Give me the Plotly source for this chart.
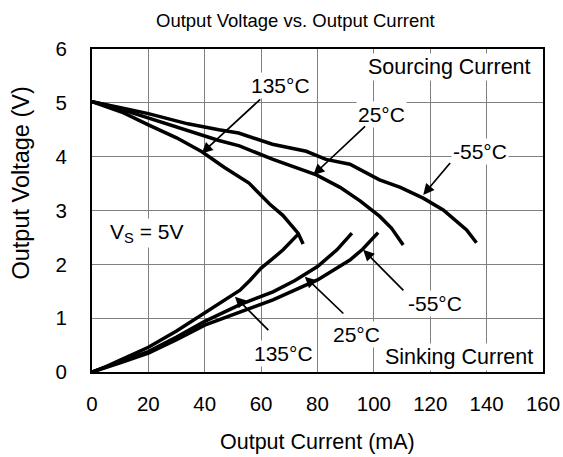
import plotly.graph_objects as go

# ---- data ----
src_m55_x = [0, 5, 11, 20, 34, 45, 52, 64, 76, 83, 91.5, 102, 109.4, 117.5, 124.6, 132.9, 136.4]
src_m55_y = [5.02, 4.97, 4.90, 4.80, 4.61, 4.50, 4.44, 4.23, 4.10, 3.95, 3.86, 3.57, 3.43, 3.23, 3.01, 2.64, 2.40]

src_25_x = [0, 5, 11, 20, 31.9, 45, 52.3, 64.2, 79.6, 88, 95.1, 99.9, 102.1, 106.3, 110.4]
src_25_y = [5.02, 4.96, 4.87, 4.72, 4.51, 4.30, 4.20, 3.95, 3.66, 3.43, 3.18, 2.97, 2.89, 2.67, 2.36]

src_135_x = [0, 5, 10.5, 20, 30, 39, 47, 55.7, 59.4, 63, 67.7, 71.3, 73.1, 74.9]
src_135_y = [5.02, 4.93, 4.83, 4.59, 4.35, 4.09, 3.80, 3.51, 3.31, 3.12, 2.91, 2.70, 2.58, 2.38]

snk_135_x = [0, 5, 10, 20, 30, 40, 47, 52.5, 56, 60, 64, 67.8, 73.5]
snk_135_y = [0, 0.10, 0.22, 0.46, 0.76, 1.09, 1.32, 1.52, 1.70, 1.93, 2.10, 2.27, 2.58]

snk_25_x = [0, 5, 10, 20, 30, 40, 52.5, 64.2, 72, 80, 86.9, 92.2]
snk_25_y = [0, 0.09, 0.19, 0.38, 0.65, 0.94, 1.25, 1.49, 1.70, 1.96, 2.27, 2.58]

snk_m55_x = [0, 5, 10, 20, 30, 40, 52.5, 64.2, 80, 91.5, 96, 101.5]
snk_m55_y = [0, 0.08, 0.17, 0.35, 0.60, 0.87, 1.12, 1.34, 1.71, 2.08, 2.28, 2.59]

x_ticks = [0, 20, 40, 60, 80, 100, 120, 140, 160]
y_ticks = [0, 1, 2, 3, 4, 5, 6]

# temperature labels: text, label position, arrow tail, arrow head
label_text = ["135°C", "25°C", "-55°C", "-55°C", "25°C", "135°C"]
label_x = [66.7, 102.7, 137.6, 121.6, 93.9, 67.8]
label_y = [5.33, 4.78, 4.09, 1.28, 0.69, 0.35]
tail_x = [60.2, 97.4, 127.5, 111.0, 89.7, 63.1]
tail_y = [5.09, 4.59, 3.91, 1.49, 1.06, 0.75]
head_x = [38.9, 78.5, 117.5, 96.2, 75.5, 50.7]
head_y = [4.06, 3.66, 3.29, 2.27, 1.77, 1.40]

FONT = "Arial, Liberation Sans, sans-serif"

fig = go.Figure()
series = [
    (src_m55_x, src_m55_y), (src_25_x, src_25_y), (src_135_x, src_135_y),
    (snk_135_x, snk_135_y), (snk_25_x, snk_25_y), (snk_m55_x, snk_m55_y),
]
for xs, ys in series:
    fig.add_trace(go.Scatter(x=xs, y=ys, mode="lines",
                             line=dict(color="black", width=3.5),
                             showlegend=False, hoverinfo="skip"))

annotations = []
for t, lx, ly in zip(label_text, label_x, label_y):
    annotations.append(dict(x=lx, y=ly, xref="x", yref="y", text=t, showarrow=False,
                            font=dict(family=FONT, size=21, color="black"),
                            bgcolor="white", borderpad=1))
for tx, ty, hx, hy in zip(tail_x, tail_y, head_x, head_y):
    annotations.append(dict(x=hx, y=hy, ax=tx, ay=ty, xref="x", yref="y",
                            axref="x", ayref="y", text="", showarrow=True,
                            arrowhead=2, arrowsize=1.3, arrowwidth=1.7,
                            arrowcolor="black"))
annotations.append(dict(x=156.4, y=5.67, xref="x", yref="y", text="Sourcing Current",
                        showarrow=False, xanchor="right",
                        font=dict(family=FONT, size=21.5, color="black"),
                        bgcolor="white", borderpad=1))
annotations.append(dict(x=157.1, y=0.28, xref="x", yref="y", text="Sinking Current",
                        showarrow=False, xanchor="right",
                        font=dict(family=FONT, size=21.5, color="black"),
                        bgcolor="white", borderpad=1))
annotations.append(dict(x=5.8, y=2.58, xref="x", yref="y", text="V<sub>S</sub> = 5V",
                        showarrow=False, xanchor="left",
                        font=dict(family=FONT, size=21, color="black"),
                        bgcolor="white", borderpad=1))
# chart title and axis titles
annotations.append(dict(x=0.452, y=1.087, xref="paper", yref="paper",
                        text="Output Voltage vs. Output Current", showarrow=False,
                        xanchor="center", yanchor="middle",
                        font=dict(family=FONT, size=18.5, color="black")))
annotations.append(dict(x=0.5, y=-0.216, xref="paper", yref="paper",
                        text="Output Current (mA)", showarrow=False,
                        xanchor="center", yanchor="middle",
                        font=dict(family=FONT, size=21.5, color="black")))
annotations.append(dict(x=-0.157, y=0.584, xref="paper", yref="paper",
                        text="Output Voltage (V)", showarrow=False, textangle=-90,
                        xanchor="center", yanchor="middle",
                        font=dict(family=FONT, size=23.5, color="black")))

fig.update_layout(
    width=563, height=457,
    margin=dict(l=92, r=20, t=49, b=85),
    paper_bgcolor="white", plot_bgcolor="white",
    font=dict(family=FONT, color="black"),
    annotations=annotations,
    showlegend=False,
)
fig.update_xaxes(range=[0, 160], tickvals=x_ticks, ticktext=[str(v) for v in x_ticks],
                 showgrid=True, gridcolor="#808080", gridwidth=1,
                 showline=True, linecolor="black", linewidth=2, mirror=True,
                 zeroline=False, ticks="", tickfont=dict(size=20.5, family=FONT),
                 ticklabelstandoff=12, automargin=False)
fig.update_yaxes(range=[0, 6], tickvals=y_ticks, ticktext=[str(v) for v in y_ticks],
                 showgrid=True, gridcolor="#808080", gridwidth=1,
                 showline=True, linecolor="black", linewidth=2, mirror=True,
                 zeroline=False, ticks="", tickfont=dict(size=20.5, family=FONT),
                 ticklabelstandoff=19, automargin=False)

fig.write_html("out.html", config={"displayModeBar": False},
               post_script="document.body.style.margin='0px';document.body.style.padding='0px';")
